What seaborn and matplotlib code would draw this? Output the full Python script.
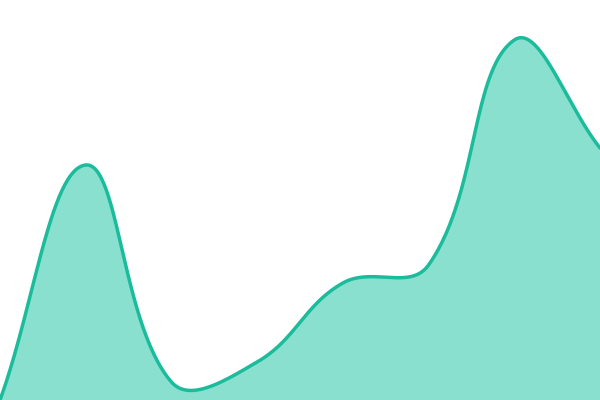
import numpy as np
import pandas as pd
import matplotlib
matplotlib.use("Agg")
import matplotlib.pyplot as plt
import seaborn as sns

# data
categories = list(range(8))
values = [0, 235, 18, 38, 117, 135, 360, 252]

LINE = "#1abc9c"
FILL = "#8ae0cf"

sns.set_theme(style="white")

def spline(xs, ys, t=0.4, n=60):
    xs = np.asarray(xs, float); ys = np.asarray(ys, float)
    m = len(xs)
    cps = []
    for i in range(m):
        p0 = (xs[max(i-1, 0)], ys[max(i-1, 0)])
        p1 = (xs[i], ys[i])
        p2 = (xs[min(i+1, m-1)], ys[min(i+1, m-1)])
        d01 = np.hypot(p1[0]-p0[0], p1[1]-p0[1])
        d12 = np.hypot(p2[0]-p1[0], p2[1]-p1[1])
        s = d01 + d12
        fa = t*d01/s if s else 0
        fb = t*d12/s if s else 0
        prev = (p1[0]-fa*(p2[0]-p0[0]), p1[1]-fa*(p2[1]-p0[1]))
        nxt = (p1[0]+fb*(p2[0]-p0[0]), p1[1]+fb*(p2[1]-p0[1]))
        cps.append((prev, nxt))
    ox, oy = [], []
    tt = np.linspace(0, 1, n)
    for i in range(m-1):
        P0 = np.array([xs[i], ys[i]]); P3 = np.array([xs[i+1], ys[i+1]])
        P1 = np.array(cps[i][1]); P2 = np.array(cps[i+1][0])
        pts = ((1-tt)**3)[:, None]*P0 + (3*(1-tt)**2*tt)[:, None]*P1 + (3*(1-tt)*tt**2)[:, None]*P2 + (tt**3)[:, None]*P3
        ox.extend(pts[:, 0]); oy.extend(pts[:, 1])
    return np.array(ox), np.array(oy)

fig = plt.figure(figsize=(6, 4), dpi=100)
ax = fig.add_axes([0, 0, 1, 1])
W, H = 600, 400
px = np.array(categories) * W / (len(categories) - 1)
sx, sy = spline(px, values)
df = pd.DataFrame({"x": sx, "y": sy})
ax.fill_between(df["x"], df["y"], 0, color=FILL, lw=0)
sns.lineplot(data=df, x="x", y="y", ax=ax, color=LINE, lw=2.5, sort=False)
ax.set_xlim(0, W)
ax.set_ylim(0, H)
ax.axis("off")
fig.savefig("out.png", dpi=100)
